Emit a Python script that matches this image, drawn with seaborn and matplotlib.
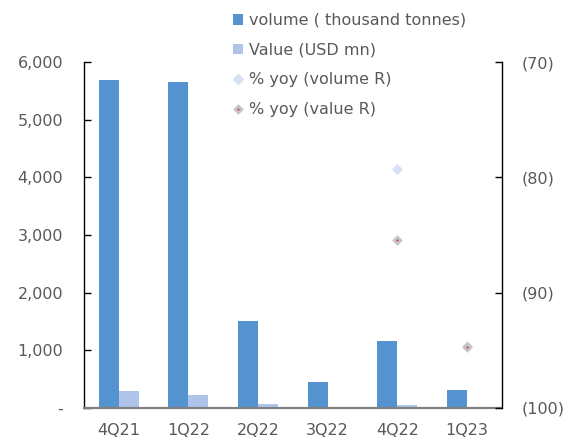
import numpy as np
import pandas as pd
import matplotlib
matplotlib.use("Agg")
import matplotlib.pyplot as plt
import seaborn as sns
from matplotlib.patches import Patch
from matplotlib.lines import Line2D
from matplotlib.ticker import FuncFormatter, MultipleLocator

quarters = ["4Q21", "1Q22", "2Q22", "3Q22", "4Q22", "1Q23"]
volume = [5690, 5660, 1505, 455, 1165, 305]          # thousand tonnes
value = [300, 225, 65, 10, 47, 5]                    # USD mn
yoy_volume = [np.nan, np.nan, np.nan, np.nan, -79.3, -94.6]
yoy_value = [np.nan, np.nan, np.nan, np.nan, -85.4, -94.7]

series_names = ["volume ( thousand tonnes)", "Value (USD mn)",
                "% yoy (volume R)", "% yoy (value R)"]

c_vol = "#5592d0"
c_val = "#aec4e9"
c_yoy_vol = "#d6e1f5"
c_text = "#595959"

sns.set_theme(style="white")
plt.rcParams["font.family"] = ["DejaVu Sans"]

df = pd.DataFrame({
    "quarter": quarters * 2,
    "amount": volume + value,
    "series": [series_names[0]] * len(quarters) + [series_names[1]] * len(quarters),
})

fig = plt.figure(figsize=(5.67, 4.41), dpi=100)
ax = fig.add_axes([0.148, 0.075, 0.737, 0.784])

sns.barplot(data=df, x="quarter", y="amount", hue="series", order=quarters,
            hue_order=series_names[:2], palette=[c_vol, c_val],
            width=0.574, gap=0, saturation=1, legend=False, ax=ax,
            edgecolor="none", linewidth=0)

ax.set_xlim(-0.5, len(quarters) - 0.5)
ax.set_ylim(0, 6000)
ax.yaxis.set_major_locator(MultipleLocator(1000))
ax.yaxis.set_major_formatter(FuncFormatter(lambda v, p: "-" if v == 0 else f"{v:,.0f}"))
ax.set_xlabel("")
ax.set_ylabel("")

# category boundary ticks on the x axis
ax.set_xticks(np.arange(len(quarters)))
ax.set_xticklabels(quarters)
ax.set_xticks(np.arange(-0.5, len(quarters) + 0.5, 1), minor=True)
ax.tick_params(axis="x", which="major", length=0, pad=11, labelsize=11.5, labelcolor=c_text)
ax.tick_params(axis="x", which="minor", direction="in", length=5, width=1, color="#404040")
ax.tick_params(axis="y", direction="in", length=5, width=1, color="black",
               pad=15, labelsize=11.5, labelcolor=c_text, left=True)

for side in ["top", "right"]:
    ax.spines[side].set_visible(False)
ax.spines["left"].set_color("black")
ax.spines["left"].set_linewidth(1)
ax.spines["bottom"].set_color("#808080")
ax.spines["bottom"].set_linewidth(1.6)
ax.spines["bottom"].set_zorder(5)

ax2 = ax.twinx()
pos = np.arange(len(quarters))
ax2.plot(pos, yoy_volume, linestyle="none", marker="D", markersize=5.3,
         markerfacecolor=c_yoy_vol, markeredgecolor=c_yoy_vol, markeredgewidth=0.5)
ax2.plot(pos, yoy_value, linestyle="none", marker="D", markersize=3.4,
         markerfacecolor="#d04a4a", markeredgecolor="#c4c4c4", markeredgewidth=2.0)
ax2.set_ylim(-100, -70)
ax2.yaxis.set_major_locator(MultipleLocator(10))
ax2.yaxis.set_major_formatter(FuncFormatter(lambda v, p: f"({abs(v):.0f})"))
ax2.tick_params(axis="y", direction="in", length=5, width=1, color="black",
                pad=14.4, labelsize=11.5, labelcolor=c_text, right=True)
for side in ["top", "left", "bottom"]:
    ax2.spines[side].set_visible(False)
ax2.spines["right"].set_color("black")
ax2.spines["right"].set_linewidth(1)
ax2.set_xlim(-0.5, len(quarters) - 0.5)
ax2.grid(False)
ax.grid(False)

handles = [
    Patch(facecolor=c_vol, edgecolor="none"),
    Patch(facecolor=c_val, edgecolor="none"),
    Line2D([], [], linestyle="none", marker="D", markersize=5.3,
           markerfacecolor=c_yoy_vol, markeredgecolor=c_yoy_vol),
    Line2D([], [], linestyle="none", marker="D", markersize=3.4,
           markerfacecolor="#d04a4a", markeredgecolor="#c4c4c4", markeredgewidth=2.0),
]
fig.legend(handles, series_names, loc="upper left", bbox_to_anchor=(0.411, 0.971),
           frameon=False, fontsize=11.5, labelcolor=c_text, handlelength=0.65,
           handleheight=0.65, handletextpad=0.35, labelspacing=0.93,
           borderpad=0, borderaxespad=0)

fig.savefig("out.png", dpi=100)
